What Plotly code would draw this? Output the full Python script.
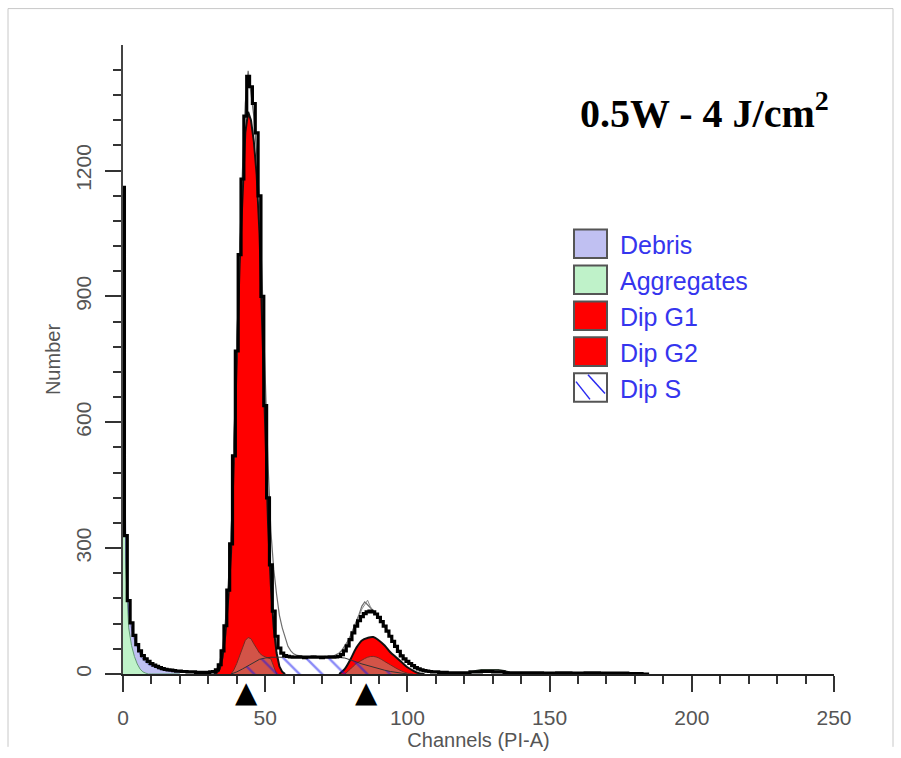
import plotly.graph_objects as go

# ---------------- data ----------------
fit_channels = list(range(0, 111))
fit_values = [1160, 330, 175, 122, 92, 70, 55, 44, 36, 30,
              25, 21, 18, 15, 13, 11, 10, 9, 8, 7,
              7, 6, 6, 5, 5, 5, 4, 4, 4, 4,
              4, 5, 6, 10, 22, 55, 115, 200, 310, 520,
              770, 1000, 1180, 1330, 1425, 1400, 1360, 1290, 1140, 900,
              640, 420, 260, 150, 90, 62, 50, 44, 42, 41,
              40, 40, 41, 40, 39, 40, 40, 41, 40, 40,
              39, 40, 40, 41, 40, 41, 42, 46, 55, 67,
              82, 98, 114, 127, 137, 144, 148, 150, 148, 143,
              135, 125, 114, 102, 90, 78, 66, 54, 43, 36,
              30, 25, 20, 15, 12, 10, 8, 7, 6, 5, 5]
tail_channels = [112, 116, 120, 124, 128, 132, 136, 140,
                 145, 150, 155, 160, 165, 170, 175, 180, 185]
tail_values = [4, 3, 3, 5, 6, 5, 3, 3, 3, 2, 3, 2, 3, 2, 2, 1, 0]

bump_channels = [122, 124, 126, 128, 130, 132, 134, 136]
bump_values = [4, 8, 10, 10, 10, 10, 8, 4]

raw_channels = list(range(30, 111))
raw_values = [4, 5, 7, 12, 28, 62, 125, 215, 330, 540,
              790, 1010, 1200, 1360, 1438, 1390, 1330, 1240, 1120, 920,
              700, 500, 340, 250, 190, 140, 110, 85, 66, 55,
              48, 45, 43, 42, 41, 40, 41, 42, 40, 41,
              40, 42, 41, 41, 43, 46, 50, 57, 66, 78,
              92, 108, 124, 142, 162, 172, 165, 158, 152, 145,
              136, 126, 115, 103, 91, 79, 67, 56, 45, 36,
              29, 23, 18, 14, 11, 9, 8, 7, 6, 5, 5]
raw2_channels = list(range(76, 101))
raw2_values = [48, 54, 62, 74, 88, 103, 120, 138, 155, 165, 176, 160, 150,
               142, 134, 124, 112, 100, 88, 76, 64, 54, 44, 36, 28]

low_channels = list(range(0, 21))
aggregates = [1100, 250, 110, 68, 42, 24, 12, 5, 2, 0,
              0, 0, 0, 0, 0, 0, 0, 0, 0, 0, 0]
debris = [20, 30, 35, 40, 40, 38, 34, 30, 26, 22,
          19, 16, 13, 11, 9, 8, 7, 6, 5, 4, 4]

g1_channels = list(range(32, 58))
g1_values = [0, 3, 12, 40, 95, 180, 290, 500, 750, 975,
             1150, 1290, 1340, 1320, 1270, 1190, 1050, 820, 570, 360,
             210, 110, 50, 18, 5, 0]

g2_channels = list(range(76, 107, 2))
g2_values = [0, 12, 35, 62, 80, 86, 88, 80, 68, 52, 40, 28, 16, 8, 2, 0]

s_channels = [38, 40, 42, 44, 46, 48, 50, 52, 55, 60, 65, 70, 75, 78, 80,
              82, 84, 86, 88, 90, 92, 94, 96, 98, 100]
s_values = [0, 5, 12, 20, 28, 35, 38, 40, 40, 40, 40, 40, 40, 38, 34,
            29, 24, 20, 16, 12, 9, 6, 4, 2, 0]

hump1_channels = list(range(38, 55))
hump1_values = [0, 10, 25, 45, 65, 80, 87, 84, 72, 60, 50, 44, 40, 38, 36, 20, 0]
hump2_channels = list(range(78, 103, 2))
hump2_values = [0, 12, 25, 33, 40, 42, 38, 30, 22, 14, 7, 2, 0]

peak_markers = [43.5, 85.5]

x_ticks = [0, 50, 100, 150, 200, 250]
y_ticks = [0, 300, 600, 900, 1200]

legend_labels = ["Debris", "Aggregates", "Dip G1", "Dip G2", "Dip S"]
legend_fills = ["#c0c0f2", "#bff2c9", "#ff0000", "#ff0000", "#ffffff"]

title_text = "<b>0.5W - 4 J/cm<sup>2</sup></b>"

# ---------------- layout geometry ----------------
W, H = 901, 758
L, R, T, B = 123, 67, 45, 74
PW, PH = W - L - R, H - T - B


def xp(px):
    return (px - L) / PW


def yp(py):
    return (H - B - py) / PH


fig = go.Figure()

# aggregates + debris (stacked)
fig.add_trace(go.Scatter(x=low_channels, y=aggregates, stackgroup="low", mode="lines",
                         line=dict(color="#5f9a70", width=1), fillcolor="#bff2c9",
                         hoverinfo="skip"))
fig.add_trace(go.Scatter(x=low_channels, y=debris, stackgroup="low", mode="lines",
                         line=dict(color="#6a6ac0", width=1), fillcolor="#c0c0f2",
                         hoverinfo="skip"))

# diploid G1 / G2 peaks
fig.add_trace(go.Scatter(x=g1_channels, y=g1_values, mode="lines", fill="tozeroy",
                         fillcolor="#ff0000", line=dict(color="#111111", width=2)))
fig.add_trace(go.Scatter(x=g2_channels, y=g2_values, mode="lines", fill="tozeroy",
                         fillcolor="#ff0000", line=dict(color="#111111", width=2),
                         line_shape="spline"))

# darker overlays inside the peaks
fig.add_trace(go.Scatter(x=hump1_channels, y=hump1_values, mode="lines", fill="tozeroy",
                         fillcolor="rgba(180,140,120,0.6)",
                         line=dict(color="#7a2a22", width=1)))
fig.add_trace(go.Scatter(x=hump2_channels, y=hump2_values, mode="lines", fill="tozeroy",
                         fillcolor="rgba(180,140,120,0.6)",
                         line=dict(color="#7a2a22", width=1), line_shape="spline"))

# S phase, hatched
fig.add_trace(go.Scatter(x=s_channels, y=s_values, mode="lines", fill="tozeroy",
                         fillcolor="rgba(0,0,0,0)",
                         fillpattern=dict(shape="\\", fgcolor="#1414f0",
                                          bgcolor="rgba(0,0,0,0)", size=16, solidity=0.15),
                         line=dict(color="#333333", width=1)))

# raw histogram (thin grey)
fig.add_trace(go.Scatter(x=raw_channels, y=raw_values, mode="lines",
                         line=dict(color="#6e6e6e", width=1.2)))
fig.add_trace(go.Scatter(x=raw2_channels, y=raw2_values, mode="lines",
                         line=dict(color="#8a8a8a", width=1)))
fig.add_trace(go.Scatter(x=bump_channels, y=bump_values, mode="lines",
                         line=dict(color="#2f3a2f", width=1.5)))

# thick black model/data line
fig.add_trace(go.Scatter(x=fit_channels + tail_channels, y=fit_values + tail_values,
                         mode="lines", line=dict(color="#000000", width=3.2),
                         line_shape="hvh"))

axis_font = dict(family="Liberation Sans, Arial, sans-serif", size=20, color="#555555")
tick_font = dict(family="Liberation Sans, Arial, sans-serif", size=21, color="#555555")

fig.update_layout(
    width=W, height=H,
    margin=dict(l=L, r=R, t=T, b=B, pad=0),
    paper_bgcolor="white", plot_bgcolor="white",
    showlegend=False,
    font=axis_font,
    xaxis=dict(range=[0, 250], tickmode="array", tickvals=x_ticks,
               ticks="outside", ticklen=16, tickwidth=1.5, tickcolor="#333333",
               showline=True, linecolor="#222222", linewidth=2,
               showgrid=False, zeroline=False, tickfont=tick_font,
               ticklabelstandoff=8,
               minor=dict(dtick=10, tick0=0, ticks="outside", ticklen=8,
                          tickwidth=1.5, tickcolor="#333333", showgrid=False),
               title=dict(text="Channels (PI-A)", font=axis_font, standoff=3)),
    yaxis=dict(range=[0, 1499.5], tickmode="array", tickvals=y_ticks,
               ticks="outside", ticklen=16, tickwidth=1.5, tickcolor="#333333",
               showline=True, linecolor="#444444", linewidth=1.5,
               showgrid=False, zeroline=False, tickfont=tick_font, tickangle=-90,
               ticklabelstandoff=6,
               minor=dict(dtick=60, tick0=0, ticks="outside", ticklen=8,
                          tickwidth=1.5, tickcolor="#333333", showgrid=False),
               title=dict(text="Number", font=axis_font, standoff=6)),
)

shapes = []
annotations = []

# outer frame (top, left, right)
frame = dict(type="line", xref="paper", yref="paper", line=dict(color="#c8c8c8", width=1))
shapes.append(dict(frame, x0=xp(8), x1=xp(893), y0=yp(8), y1=yp(8)))
shapes.append(dict(frame, x0=xp(8), x1=xp(8), y0=yp(8), y1=yp(H)))
shapes.append(dict(frame, x0=xp(893), x1=xp(893), y0=yp(8), y1=yp(H)))

# peak-position markers below the axis
for ch in peak_markers:
    annotations.append(dict(xref="x", yref="paper", x=ch, y=yp(702),
                            xanchor="center", yanchor="middle", showarrow=False,
                            text="▲",
                            font=dict(family="DejaVu Sans", size=29, color="black")))

# custom legend
for i, (lab, col) in enumerate(zip(legend_labels, legend_fills)):
    cy = 247 + 36.5 * i
    shapes.append(dict(type="rect", xref="paper", yref="paper",
                       x0=xp(574), x1=xp(607), y0=yp(cy + 14.5), y1=yp(cy - 14.5),
                       fillcolor=col, line=dict(color="#555555", width=2)))
    if lab == "Dip S":
        for (ax0, ay0, ax1, ay1) in [(576, cy - 6, 590, cy + 12), (588, cy - 13, 605, cy + 6)]:
            shapes.append(dict(type="line", xref="paper", yref="paper",
                               x0=xp(ax0), y0=yp(ay0), x1=xp(ax1), y1=yp(ay1),
                               line=dict(color="#2a2af0", width=1.5)))
    annotations.append(dict(xref="paper", yref="paper", x=xp(618), y=yp(cy + 1),
                            xanchor="left", yanchor="middle", showarrow=False,
                            text=lab,
                            font=dict(family="Liberation Sans, Arial, sans-serif",
                                      size=25, color="#3535ee")))

annotations.append(dict(xref="paper", yref="paper", x=xp(704), y=yp(112),
                        xanchor="center", yanchor="middle", showarrow=False,
                        text=title_text,
                        font=dict(family="Liberation Serif, Times New Roman, serif",
                                  size=40, color="black")))

fig.update_layout(shapes=shapes, annotations=annotations)

fig.write_html("out.html")
